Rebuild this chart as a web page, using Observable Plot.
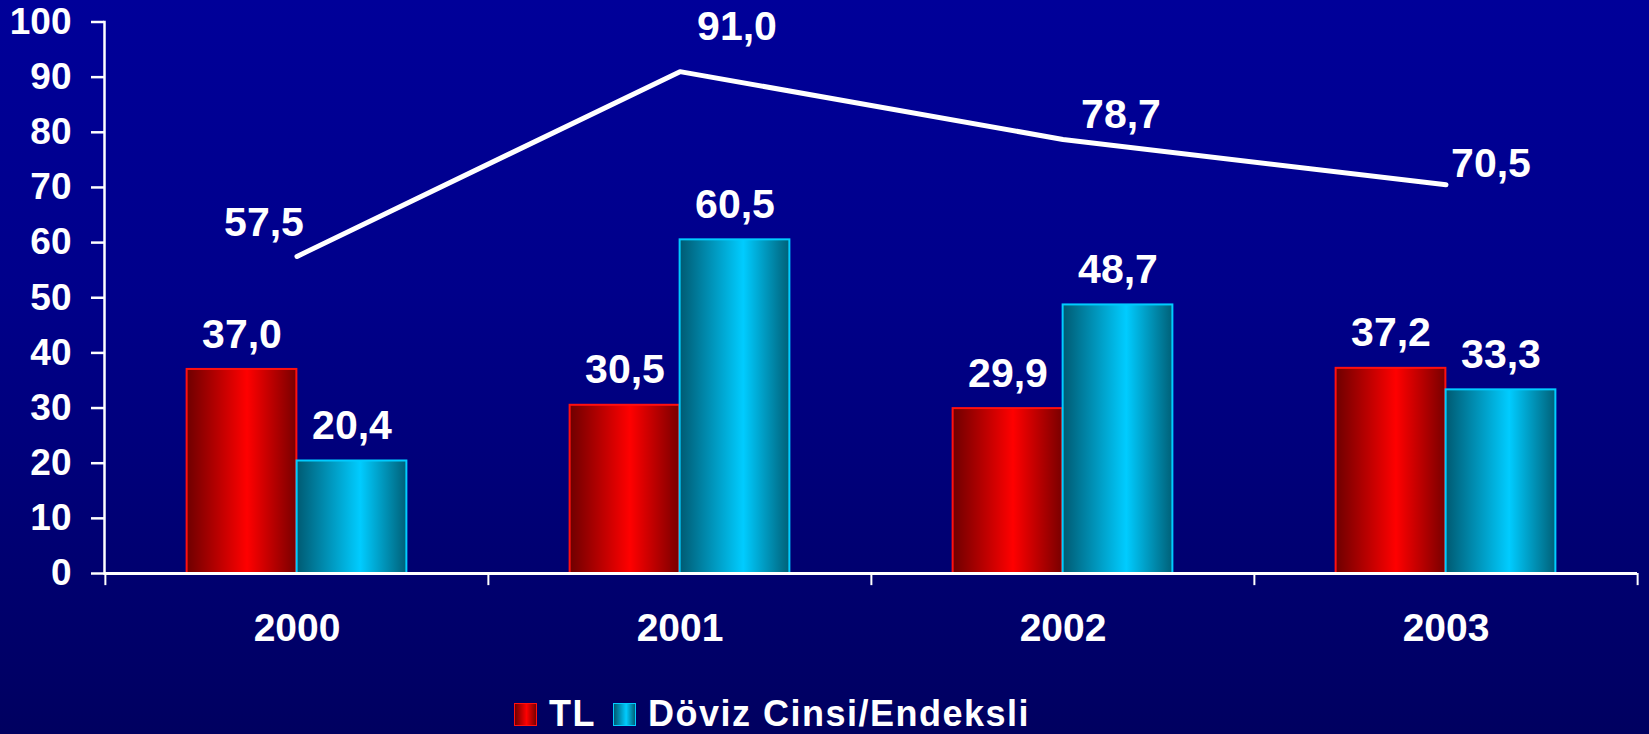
<!DOCTYPE html>
<html>
<head>
<meta charset="utf-8">
<script src="https://cdn.jsdelivr.net/npm/d3@7"></script>
<script src="https://cdn.jsdelivr.net/npm/@observablehq/plot@0.6"></script>
<style>
  html, body { margin: 0; padding: 0; }
  body {
    width: 1649px; height: 734px; overflow: hidden;
    background: linear-gradient(to bottom, #000099 0%, #00008a 40%, #000060 100%);
    font-family: "Liberation Sans", Arial, sans-serif;
  }
  #chart { position: absolute; left: 0; top: 0; }
  #legend {
    position: absolute; left: 514px; top: 696px; height: 36px; line-height: 36px;
    display: flex; align-items: center; color: white; font-weight: bold; font-size: 36px;
    letter-spacing: 1.5px;
  }
  .sw { width: 21px; height: 21px; display: inline-block; margin-right: 12px; }
  .item { display: flex; align-items: center; margin-right: 17px; }
</style>
</head>
<body>
<div id="chart"></div>
<div id="legend"></div>
<script>
const years = ["2000", "2001", "2002", "2003"];
const tlValues = [37.0, 30.5, 29.9, 37.2];
const dovizValues = [20.4, 60.5, 48.7, 33.3];
const totalValues = [57.5, 91.0, 78.7, 70.5];
const seriesNames = ["TL", "Döviz Cinsi/Endeksli"];
const yTicks = [0, 10, 20, 30, 40, 50, 60, 70, 80, 90, 100];

const fmt = v => d3.format(".1f")(v).replace(".", ",");

const tlData = years.map((year, i) => ({year, value: tlValues[i]}));
const dovizData = years.map((year, i) => ({year, value: dovizValues[i]}));
const totalData = years.map((year, i) => ({year, value: totalValues[i]}));

const W = 1649, H = 660;
const mL = 104, mR = 12, mT = 21.5, mB = 87;
const band = (W - mL - mR) / years.length;
const barW = 110;
const inOuter = band / 2 - barW;
const inInner = band / 2;

const font = {fontSize: 41, fontWeight: "bold", fill: "white"};
const lineLabelOffsets = [[-33, -34], [57, -45], [58, -25], [45, -21]];

const plot = Plot.plot({
  width: W, height: H,
  marginLeft: mL, marginRight: mR, marginTop: mT, marginBottom: mB,
  style: {background: "transparent", color: "white", fontFamily: "'Liberation Sans', Arial, sans-serif", overflow: "visible"},
  x: {domain: years, paddingInner: 0, paddingOuter: 0},
  y: {domain: [0, 100]},
  marks: [
    Plot.barY(tlData, {x: "year", y: "value", fill: "url(#gradRed)", stroke: "#ff1010", strokeWidth: 2, insetLeft: inOuter, insetRight: inInner}),
    Plot.barY(dovizData, {x: "year", y: "value", fill: "url(#gradBlue)", stroke: "#00ccff", strokeWidth: 2, insetLeft: inInner, insetRight: inOuter}),
    Plot.ruleY([0], {stroke: "white", strokeWidth: 3}),
    Plot.frame({anchor: "left", stroke: "white", strokeWidth: 2.5}),
    Plot.axisY({ticks: yTicks, tickSize: 13, tickPadding: 20, fontSize: 37, fontWeight: "bold", stroke: "white", strokeWidth: 2.5, label: null}),
    Plot.axisX({tickSize: 0, tickPadding: 40, fontSize: 39, fontWeight: "bold", label: null}),
    Plot.ruleX(years, {x: d => d, dx: -band / 2, y1: 0, y2: -2.2, stroke: "white", strokeWidth: 2}),
    Plot.ruleX([years[years.length - 1]], {x: d => d, dx: band / 2, y1: 0, y2: -2.2, stroke: "white", strokeWidth: 2}),
    Plot.line(totalData, {x: "year", y: "value", stroke: "white", strokeWidth: 5, strokeLinecap: "round", strokeLinejoin: "round"}),
    Plot.text(tlData, {x: "year", y: "value", text: d => fmt(d.value), dx: -barW / 2, dy: -35, ...font}),
    Plot.text(dovizData, {x: "year", y: "value", text: d => fmt(d.value), dx: barW / 2, dy: -35, ...font}),
    ...totalData.map((d, i) => Plot.text([d], {x: "year", y: "value", text: e => fmt(e.value), dx: lineLabelOffsets[i][0], dy: lineLabelOffsets[i][1], ...font}))
  ]
});

const svg = d3.select(plot);
const defs = svg.insert("defs", ":first-child");
const red = defs.append("linearGradient").attr("id", "gradRed").attr("x1", "0").attr("x2", "1").attr("y1", "0").attr("y2", "0");
red.append("stop").attr("offset", "0%").attr("stop-color", "#6e0000");
red.append("stop").attr("offset", "55%").attr("stop-color", "#ff0000");
red.append("stop").attr("offset", "100%").attr("stop-color", "#780000");
const blue = defs.append("linearGradient").attr("id", "gradBlue").attr("x1", "0").attr("x2", "1").attr("y1", "0").attr("y2", "0");
blue.append("stop").attr("offset", "0%").attr("stop-color", "#005a72");
blue.append("stop").attr("offset", "58%").attr("stop-color", "#00ccff");
blue.append("stop").attr("offset", "100%").attr("stop-color", "#006078");

document.getElementById("chart").appendChild(plot);

const legend = document.getElementById("legend");
const swatchBg = [
  "linear-gradient(to right, #6e0000, #ff0000 55%, #780000)",
  "linear-gradient(to right, #005a72, #00ccff 58%, #006078)"
];
const swatchBorder = ["#ff1010", "#00ccff"];
seriesNames.forEach((name, i) => {
  const item = document.createElement("div");
  item.className = "item";
  const sw = document.createElement("span");
  sw.className = "sw";
  sw.style.background = swatchBg[i];
  sw.style.border = "1px solid " + swatchBorder[i];
  item.appendChild(sw);
  const t = document.createElement("span");
  t.textContent = name;
  item.appendChild(t);
  legend.appendChild(item);
});
</script>
</body>
</html>
